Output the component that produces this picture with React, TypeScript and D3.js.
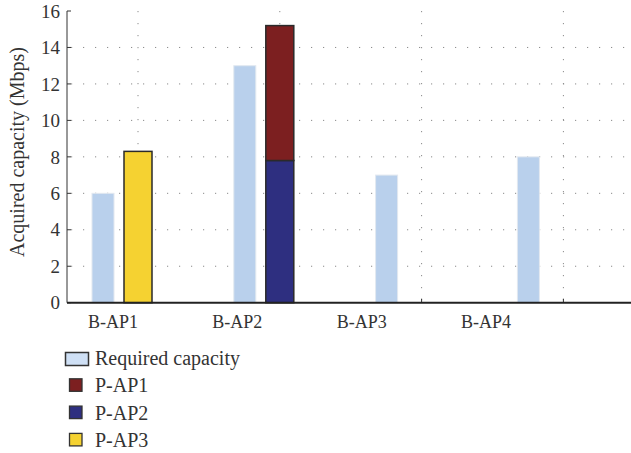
import React from "react";
import * as d3 from "d3";

const categories = ["B-AP1", "B-AP2", "B-AP3", "B-AP4"];
const requiredCapacity = [6, 13, 7, 8];
const pAP1 = [0, 7.4, 0, 0];
const pAP2 = [0, 7.8, 0, 0];
const pAP3 = [8.3, 0, 0, 0];
const yTicks = [0, 2, 4, 6, 8, 10, 12, 14, 16];
const seriesKeys = ["P-AP2", "P-AP1", "P-AP3"];
const legendItems = ["Required capacity", "P-AP1", "P-AP2", "P-AP3"];

const colors: Record<string, string> = {
  "Required capacity": "#b9d0ec",
  "P-AP1": "#7c1f20",
  "P-AP2": "#2e2f80",
  "P-AP3": "#f5d231",
};

const W = 631;
const H = 453;
const FONT = "'Liberation Serif', 'Times New Roman', serif";

export default function App() {
  const left = 67;
  const right = 631;
  const y = d3.scaleLinear().domain([0, 16]).range([302.7, 11]);
  const x = d3.scaleBand<string>().domain(categories).range([49.6, 616.8]).padding(0);
  const sub = d3.scalePoint<string>().domain(["req", "prov"]).range([53.4, 88.4]);
  const xLabel = d3.scalePoint<string>().domain(categories).range([113, 486]);

  const table = categories.map((c, i) => ({
    cat: c,
    "P-AP1": pAP1[i],
    "P-AP2": pAP2[i],
    "P-AP3": pAP3[i],
  }));
  const stacked = d3.stack<any>().keys(seriesKeys)(table);

  const reqW = 22;
  const provW = 28;
  const gridColor = "#8a8a8a";
  const dash = "1.2,10.8";

  return (
    <svg
      width={W}
      height={H}
      style={{ position: "absolute", left: 0, top: 0, background: "#fff" }}
      fontFamily={FONT}
    >
      {/* horizontal grid */}
      {yTicks
        .filter((t) => t > 0 && t < 16)
        .map((t) => (
          <line
            key={"hg" + t}
            x1={left + 4}
            x2={right}
            y1={y(t)}
            y2={y(t)}
            stroke={gridColor}
            strokeWidth={1}
            strokeDasharray={dash}
          />
        ))}
      {/* vertical grid */}
      {categories.map((c) => {
        const gx = (x(c) as number) + (sub("prov") as number);
        return (
          <g key={"vg" + c}>
            <line
              x1={gx}
              x2={gx}
              y1={y(16)}
              y2={y(0)}
              stroke={gridColor}
              strokeWidth={1}
              strokeDasharray={dash}
            />
            <line x1={gx} x2={gx} y1={y(0)} y2={y(0) - 4} stroke="#333" strokeWidth={1} />
          </g>
        );
      })}

      {/* required bars */}
      {categories.map((c, i) => {
        const cx = (x(c) as number) + (sub("req") as number);
        return (
          <rect
            key={"req" + c}
            x={cx - reqW / 2}
            y={y(requiredCapacity[i])}
            width={reqW}
            height={y(0) - y(requiredCapacity[i])}
            fill={colors["Required capacity"]}
            stroke="#e2e8f0"
            strokeWidth={1}
          />
        );
      })}

      {/* stacked provided bars */}
      {stacked.map((s) =>
        s.map((d: any, i: number) => {
          if (d[1] - d[0] <= 0) return null;
          const cx = (x(categories[i]) as number) + (sub("prov") as number);
          return (
            <rect
              key={s.key + i}
              x={cx - provW / 2}
              y={y(d[1])}
              width={provW}
              height={y(d[0]) - y(d[1])}
              fill={colors[s.key]}
              stroke="#2a2a2a"
              strokeWidth={1.5}
            />
          );
        })
      )}

      {/* y axis */}
      <line x1={left} x2={left} y1={y(16)} y2={y(0)} stroke="#333" strokeWidth={1} />
      {yTicks.map((t) => (
        <g key={"yt" + t}>
          <line x1={left} x2={left + 4} y1={y(t)} y2={y(t)} stroke="#333" strokeWidth={1} />
          <text
            x={60}
            y={y(t)}
            dy="0.35em"
            textAnchor="end"
            fontSize={19}
            fill="#333"
          >
            {t}
          </text>
        </g>
      ))}
      {/* x axis */}
      <line x1={left} x2={right} y1={y(0)} y2={y(0)} stroke="#222" strokeWidth={2} />
      {categories.map((c) => (
        <text
          key={"xl" + c}
          x={xLabel(c)}
          y={328}
          textAnchor="middle"
          fontSize={18}
          fill="#333"
        >
          {c}
        </text>
      ))}

      {/* y label */}
      <text
        transform={`translate(24,152) rotate(-90)`}
        textAnchor="middle"
        fontSize={20}
        fill="#333"
      >
        Acquired capacity (Mbps)
      </text>

      {/* legend */}
      {legendItems.map((k, i) => {
        const baseY = 365 + i * 27.3;
        const isReq = k === "Required capacity";
        return (
          <g key={"lg" + k}>
            {isReq ? (
              <rect
                x={65.5}
                y={352.5}
                width={23}
                height={13}
                fill="#cfe0f5"
                stroke="#333"
                strokeWidth={1.5}
              />
            ) : (
              <rect
                x={69.5}
                y={baseY - 13.5}
                width={12.5}
                height={12.5}
                fill={colors[k]}
                stroke="#333"
                strokeWidth={1.3}
              />
            )}
            <text x={95} y={baseY} fontSize={20} fill="#333">
              {k}
            </text>
          </g>
        );
      })}
    </svg>
  );
}
